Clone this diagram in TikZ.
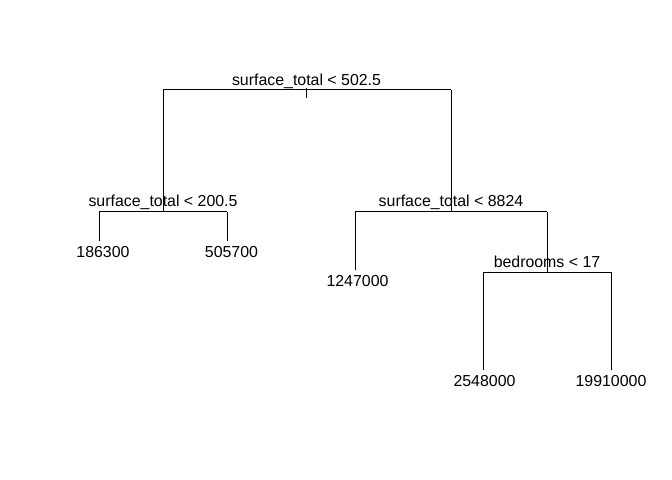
\documentclass[tikz,border=0pt]{standalone}
\usepackage{fontspec}
\setmainfont{Liberation Sans}
\begin{document}
\begin{tikzpicture}[x=1bp,y=-1bp,line width=1bp,
  lbl/.style={anchor=base,inner sep=0pt,font=\fontsize{15.9bp}{18bp}\selectfont}]
\useasboundingbox (0,0) rectangle (672,480);
% node positions
\coordinate (r) at (306.5,90);
\coordinate (rt) at (306.5,88);
\coordinate (rb) at (306.5,98);
\coordinate (rl) at (163,90);
\coordinate (rr) at (451,90);
\coordinate (a) at (163,212);
\coordinate (al) at (99,212);
\coordinate (ar) at (227,212);
\coordinate (b) at (451,212);
\coordinate (bl) at (355,212);
\coordinate (br) at (547,212);
\coordinate (l1) at (99,241);
\coordinate (l2) at (227,241);
\coordinate (l3) at (355,270);
\coordinate (c) at (547,272);
\coordinate (cl) at (483,272);
\coordinate (cr) at (611,272);
\coordinate (l4) at (483,370);
\coordinate (l5) at (611,370);
% edges
\draw (rt) -- (rb);
\draw (rl) -- (rr);
\draw (rl) -- (a);
\draw (rr) -- (b);
\draw (al) -- (ar);
\draw (al) -- (l1);
\draw (ar) -- (l2);
\draw (bl) -- (br);
\draw (bl) -- (l3);
\draw (br) -- (c);
\draw (cl) -- (cr);
\draw (cl) -- (l4);
\draw (cr) -- (l5);
% labels
\node[lbl] (tr) at (306.5,86) {surface\_total < 502.5};
\node[lbl] (ta) at (163,207) {surface\_total < 200.5};
\node[lbl] (tb) at (451,207) {surface\_total < 8824};
\node[lbl] (tc) at (547,267.5) {bedrooms < 17};
\node[lbl] (t1) at (103,257.5) {186300};
\node[lbl] (t2) at (231.5,257.5) {505700};
\node[lbl] (t3) at (357.5,286) {1247000};
\node[lbl] (t4) at (484.5,386) {2548000};
\node[lbl] (t5) at (611,386) {19910000};
\end{tikzpicture}
\end{document}
